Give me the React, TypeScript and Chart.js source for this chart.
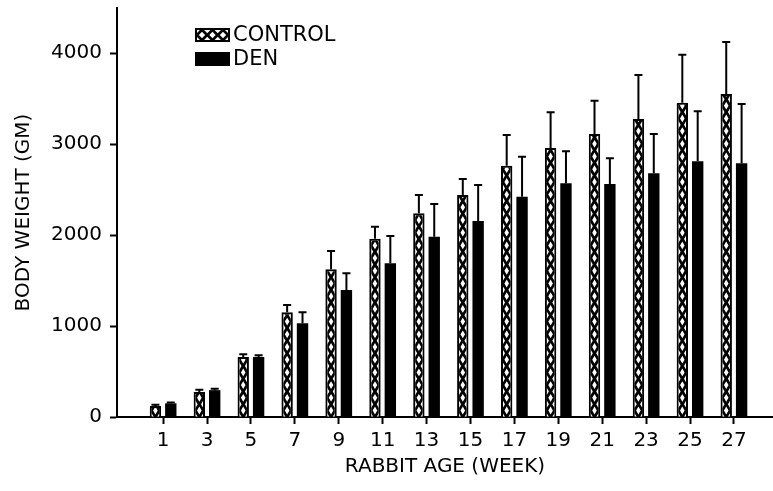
import React, { useEffect, useRef } from 'react';
import { Chart, registerables } from 'chart.js';

Chart.register(...registerables);

const weeks = [1, 3, 5, 7, 9, 11, 13, 15, 17, 19, 21, 23, 25, 27];
const controlMean = [120, 275, 660, 1150, 1625, 1960, 2240, 2440, 2760, 2955, 3110, 3275, 3455, 3550];
const controlSD = [15, 25, 30, 80, 200, 130, 200, 175, 340, 395, 365, 485, 525, 570];
const denMean = [150, 295, 660, 1030, 1395, 1690, 1980, 2155, 2420, 2570, 2560, 2680, 2810, 2790];
const denSD = [10, 15, 20, 120, 185, 300, 360, 395, 440, 350, 285, 430, 550, 650];
const yTicks = [0, 1000, 2000, 3000, 4000];
const seriesLabels = ['CONTROL', 'DEN'];

const FONT = "'DejaVu Sans', sans-serif";

function drawDiamondLattice(
  ctx: CanvasRenderingContext2D,
  x0: number, y0: number, w: number, h: number,
  cx: number, cy: number, px: number, py: number, ax: number, ay: number
) {
  ctx.save();
  ctx.beginPath();
  ctx.rect(x0, y0, w, h);
  ctx.clip();
  ctx.fillStyle = '#fff';
  const iMin = Math.floor((x0 - cx) / px) - 1;
  const iMax = Math.ceil((x0 + w - cx) / px) + 1;
  const jMin = Math.floor((y0 - cy) / py) - 1;
  const jMax = Math.ceil((y0 + h - cy) / py) + 1;
  ctx.beginPath();
  for (let i = iMin; i <= iMax; i++) {
    for (let j = jMin; j <= jMax; j++) {
      for (const [dx, dy] of [[0, 0], [0.5, 0.5]]) {
        const x = cx + (i + dx) * px;
        const y = cy + (j + dy) * py;
        ctx.moveTo(x, y - ay);
        ctx.lineTo(x + ax, y);
        ctx.lineTo(x, y + ay);
        ctx.lineTo(x - ax, y);
        ctx.closePath();
      }
    }
  }
  ctx.fill();
  ctx.restore();
}

const latticePlugin = {
  id: 'lattice',
  afterDatasetDraw(chart: any, args: any) {
    if (args.index !== 0) return;
    const ctx = chart.ctx;
    args.meta.data.forEach((el: any) => {
      const { x, y, base, width } = el.getProps(['x', 'y', 'base', 'width'], true);
      const b = 2;
      const left = x - width / 2 + b;
      const top = y + b;
      const w = width - 2 * b;
      const h = base - y - b;
      if (h <= 0) return;
      drawDiamondLattice(ctx, left, top, w, h, x, base - 6, w + 0.6, 12.7, w / 2 - 1.4, 3.9);
    });
  },
};

const errorBarPlugin = {
  id: 'errorBars',
  afterDatasetsDraw(chart: any) {
    const ctx = chart.ctx;
    const ys = chart.scales.y;
    chart.data.datasets.forEach((ds: any, di: number) => {
      const meta = chart.getDatasetMeta(di);
      meta.data.forEach((el: any, i: number) => {
        const { x, y } = el.getProps(['x', 'y'], true);
        const mean = ds.data[i].y;
        const yt = ys.getPixelForValue(mean + ds.errors[i]);
        ctx.save();
        ctx.strokeStyle = '#000';
        ctx.lineWidth = 2;
        ctx.beginPath();
        ctx.moveTo(x, y);
        ctx.lineTo(x, yt);
        ctx.moveTo(x - 4, yt);
        ctx.lineTo(x + 4, yt);
        ctx.stroke();
        ctx.restore();
      });
    });
  },
};

const legendPlugin = {
  id: 'customLegend',
  afterDraw(chart: any) {
    const ctx = chart.ctx;
    const { left, top } = chart.chartArea;
    const bx = left + 78;
    const by = top + 20;
    const labels = chart.data.datasets.map((d: any) => d.label);
    ctx.save();
    ctx.fillStyle = '#000';
    ctx.fillRect(bx, by, 35, 14);
    drawDiamondLattice(ctx, bx + 2, by + 2, 31, 10, bx + 7, by + 7, 10.5, 10, 3.2, 3.2);
    ctx.fillStyle = '#000';
    ctx.fillRect(bx, by + 24, 35, 14);
    ctx.font = `21px ${FONT}`;
    ctx.textBaseline = 'middle';
    ctx.textAlign = 'left';
    ctx.fillStyle = '#000';
    ctx.fillText(labels[0], bx + 38, by + 8);
    ctx.fillText(labels[1], bx + 38, by + 32);
    ctx.restore();
  },
};

export default function App() {
  const ref = useRef<HTMLCanvasElement>(null);

  useEffect(() => {
    if (!ref.current) return;
    const chart = new Chart(ref.current, {
      type: 'bar',
      data: {
        datasets: [
          {
            label: seriesLabels[0],
            data: weeks.map((w, i) => ({ x: w, y: controlMean[i] })),
            backgroundColor: '#000',
            borderColor: '#000',
            borderWidth: 2,
            errors: controlSD,
          } as any,
          {
            label: seriesLabels[1],
            data: weeks.map((w, i) => ({ x: w, y: denMean[i] })),
            backgroundColor: '#000',
            borderWidth: 0,
            errors: denSD,
          } as any,
        ],
      },
      options: {
        responsive: false,
        animation: false,
        devicePixelRatio: 1,
        categoryPercentage: 0.7,
        barPercentage: 0.74,
        layout: { padding: { top: 8, right: 0, left: 0, bottom: 0 } },
        plugins: {
          legend: { display: false },
          tooltip: { enabled: false },
        },
        scales: {
          x: {
            type: 'linear',
            min: -1.1,
            max: 28.78,
            offset: false,
            afterBuildTicks: (s: any) => {
              s.ticks = weeks.map((v) => ({ value: v }));
            },
            afterFit: (s: any) => {
              s.height = 74;
              s.paddingLeft = 0;
              s.paddingRight = 0;
            },
            grid: {
              offset: false,
              drawOnChartArea: false,
              drawTicks: true,
              tickLength: 7,
              tickWidth: 2,
              tickColor: '#000',
            },
            border: { display: true, color: '#000', width: 2 },
            ticks: {
              color: '#000',
              font: { family: FONT, size: 20 },
              padding: 5,
              maxRotation: 0,
              autoSkip: false,
              callback: (v: any) => String(v),
            },
            title: {
              display: true,
              text: 'RABBIT AGE (WEEK)',
              color: '#000',
              font: { family: FONT, size: 20 },
              padding: { top: 0, bottom: 12 },
            },
          },
          y: {
            type: 'linear',
            min: 0,
            max: 4495,
            afterBuildTicks: (s: any) => {
              s.ticks = yTicks.map((v) => ({ value: v }));
            },
            afterFit: (s: any) => {
              s.width = 117;
              s.paddingTop = 0;
              s.paddingBottom = 0;
            },
            grid: {
              drawOnChartArea: false,
              drawTicks: true,
              tickLength: 7,
              tickWidth: 2,
              tickColor: '#000',
            },
            border: { display: true, color: '#000', width: 2 },
            ticks: {
              color: '#000',
              font: { family: FONT, size: 20 },
              padding: 8,
              callback: (v: any) => String(v),
            },
            title: {
              display: true,
              text: 'BODY WEIGHT (GM)',
              color: '#000',
              font: { family: FONT, size: 20 },
              padding: { top: 12, bottom: 0 },
            },
          },
        },
      } as any,
      plugins: [latticePlugin, errorBarPlugin, legendPlugin],
    });
    return () => chart.destroy();
  }, []);

  return (
    <div style={{ position: 'fixed', left: 0, top: 0, width: 773, height: 491, background: '#fff' }}>
      <canvas ref={ref} width={773} height={491} style={{ display: 'block' }} />
    </div>
  );
}
